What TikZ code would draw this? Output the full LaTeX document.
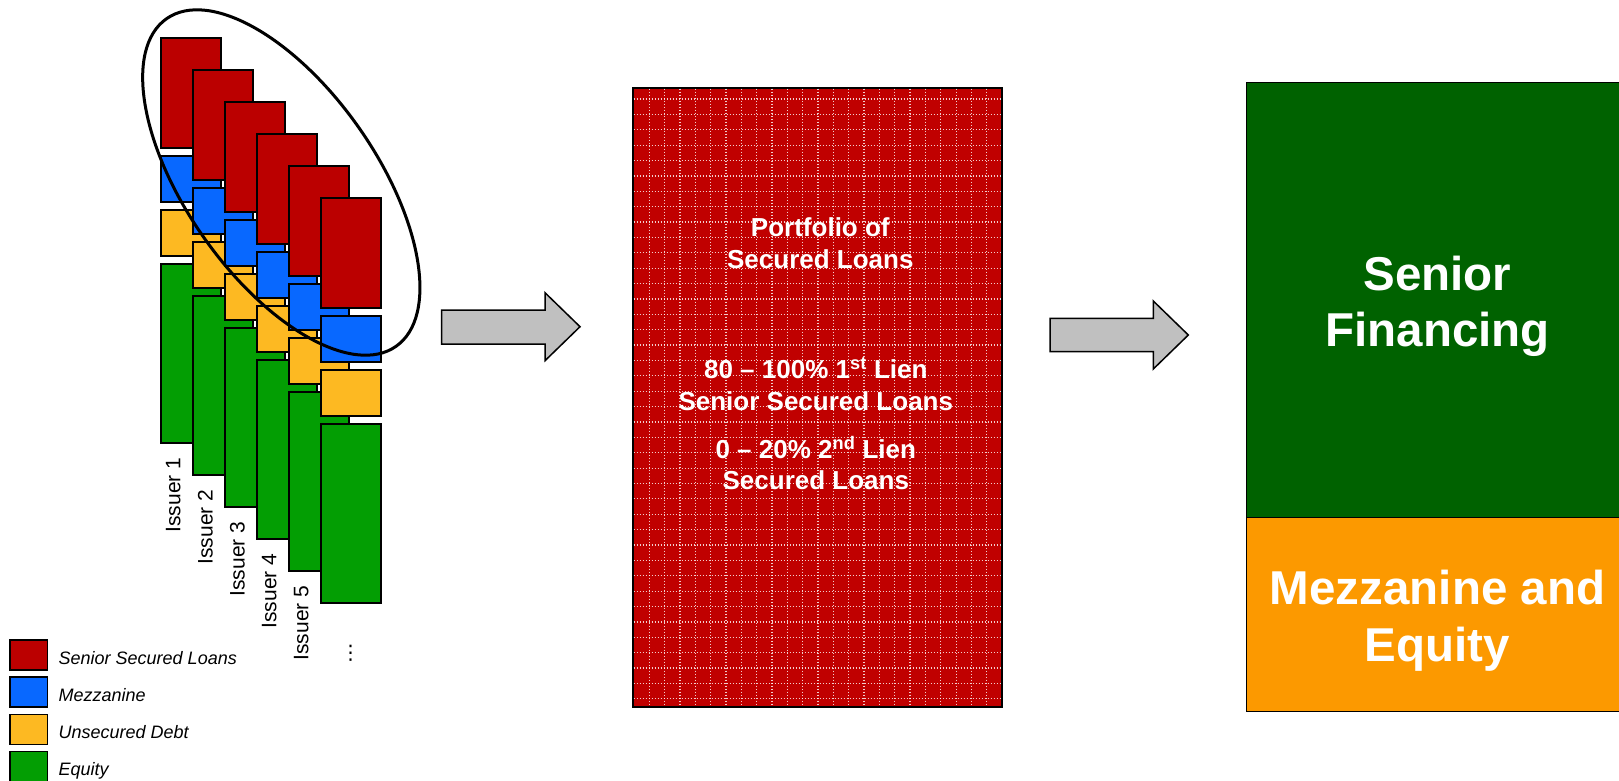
\documentclass[tikz,border=0pt]{standalone}
\usepackage{fontspec}
\setmainfont{Liberation Sans}
\newfontfamily\dotsfont{DejaVu Sans}
\usetikzlibrary{shapes.geometric}
\definecolor{loanred}{RGB}{187,0,0}
\definecolor{mezzblue}{RGB}{8,104,255}
\definecolor{debtyellow}{RGB}{253,185,34}
\definecolor{equitygreen}{RGB}{3,158,3}
\definecolor{portred}{RGB}{192,0,0}
\definecolor{seniorgreen}{RGB}{0,98,0}
\definecolor{mezzorange}{RGB}{252,153,0}
\definecolor{arrowgrey}{RGB}{192,192,192}
\begin{document}
\begin{tikzpicture}[x=1pt, y=-1pt,
    tranche/.style={draw=black, line width=1.8pt},
    gridline/.style={white, opacity=0.8, line width=1.2pt, dash pattern=on 1.5pt off 1.5pt},
    bigarrow/.style={draw=black, line width=1.5pt, fill=arrowgrey, line join=miter},
    boxtext/.style={text=white, font=\fontsize{26}{31}\selectfont\bfseries, inner sep=0pt, anchor=base},
    bigtext/.style={text=white, font=\fontsize{47.5}{56}\selectfont\bfseries, inner sep=0pt, anchor=base},
    issuertext/.style={font=\fontsize{21}{25}\selectfont, inner sep=0pt, rotate=90, anchor=west},
    legtext/.style={font=\fontsize{18}{21}\selectfont\itshape, inner sep=0pt, anchor=base west}]
    \useasboundingbox (0,0) rectangle (1619,780);
    \foreach \i in {0,...,5} {
        \begin{scope}[shift={({32*\i},{32*\i})}]
            \draw[tranche, fill=loanred] (160.7,37.7) rectangle (220.7,147.7);
            \draw[tranche, fill=mezzblue] (160.7,156) rectangle (220.7,201.7);
            \draw[tranche, fill=debtyellow] (160.7,210) rectangle (220.7,256);
            \draw[tranche, fill=equitygreen] (160.7,264) rectangle (220.7,443.3);
        \end{scope}
    }
    \node[draw, ellipse, line width=3pt, minimum width=400pt, minimum height=190pt, inner sep=0pt, rotate=-55] (senior) at (281.3,182.5) {};
    \foreach \i in {1,...,5}
        \node[issuertext] (issuer\i) at ({173.3+32*(\i-1)},{532.7+32*(\i-1)}) {Issuer \i};
    \node[font=\fontsize{20}{24}\dotsfont, inner sep=0pt] (more) at (350.7,653.7) {⋮};
    \foreach \col/\txt [count=\n from 0] in {loanred/Senior Secured Loans, mezzblue/Mezzanine, debtyellow/Unsecured Debt, equitygreen/Equity} {
        \draw[line width=1.5pt, fill=\col] (10,{640+37.2*\n}) rectangle (47.3,{670+37.2*\n});
        \node[legtext] (leg\n) at (58.5,{664+37.2*\n}) {\txt};
    }
    \draw[bigarrow] (441.7,310) -- (545,310) -- (545,292.7) -- (580,326.7) -- (545,360.7) -- (545,344) -- (441.7,344) -- cycle;
    \node[draw=black, line width=2.5pt, fill=portred, minimum width=369pt, minimum height=619pt, inner sep=0pt] (port) at (817.5,397.5) {};
    \foreach \k in {0,...,22}
        \draw[gridline] ({649.3+15.34*\k},88.5) -- ({649.3+15.34*\k},706.5);
    \foreach \k in {0,...,39}
        \draw[gridline] (633.5,{99+15.38*\k}) -- (1001.5,{99+15.38*\k});
    \node[boxtext] (port1) at (820.3,236.7) {Portfolio of};
    \node[boxtext] (port2) at (820.3,268) {Secured Loans};
    \node[boxtext] (lien1) at (815.8,378.3) {80 -- 100\% 1\textsuperscript{st} Lien};
    \node[boxtext] (lien2) at (815.8,410) {Senior Secured Loans};
    \node[boxtext] (lien3) at (815.8,458.3) {0 -- 20\% 2\textsuperscript{nd} Lien};
    \node[boxtext] (lien4) at (815.8,489.3) {Secured Loans};
    \draw[bigarrow] (1050,318.3) -- (1153.3,318.3) -- (1153.3,301) -- (1188.3,335) -- (1153.3,369) -- (1153.3,351.7) -- (1050,351.7) -- cycle;
    \draw[line width=1.5pt, fill=seniorgreen] (1246.7,82.7) rectangle (1628.3,517.3);
    \draw[line width=1.5pt, fill=mezzorange] (1246.7,517.3) rectangle (1628.3,711.7);
    \node[bigtext] (fin1) at (1437.5,290.7) {Senior};
    \node[bigtext] (fin2) at (1437.5,346.7) {Financing};
    \node[bigtext] (fin3) at (1437.5,604) {Mezzanine and};
    \node[bigtext] (fin4) at (1437.5,661.7) {Equity};
\end{tikzpicture}
\end{document}
